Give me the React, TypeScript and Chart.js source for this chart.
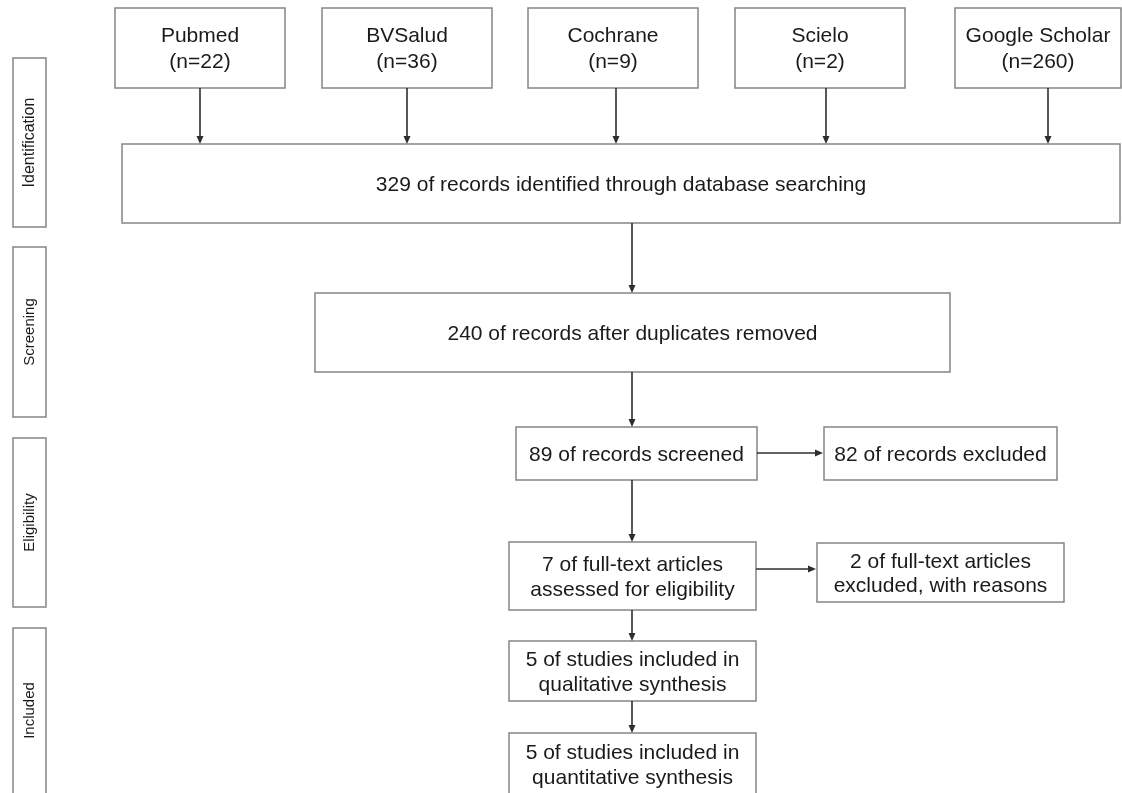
import React, { useEffect, useRef } from 'react';
import { Chart, registerables } from 'chart.js';

Chart.register(...registerables);

// data
const sourceNames = ['Pubmed', 'BVSalud', 'Cochrane', 'Scielo', 'Google Scholar'];
const sourceCounts = [22, 36, 9, 2, 260];
const stageNames = ['Identification', 'Screening', 'Eligibility', 'Included'];
const flowCounts = [329, 240, 89, 7, 5, 5];
const flowLabels = [
  ['of records identified through database searching'],
  ['of records after duplicates removed'],
  ['of records screened'],
  ['of full-text articles', 'assessed for eligibility'],
  ['of studies included in', 'qualitative synthesis'],
  ['of studies included in', 'quantitative synthesis'],
];
const excludedCounts = [82, 2];
const excludedLabels = [
  ['of records excluded'],
  ['of full-text articles', 'excluded, with reasons'],
];

// layout (x0, y0, x1, y1) in the 1122 x 793 frame
const sourceBoxes = [
  [115, 8, 285, 88],
  [322, 8, 492, 88],
  [528, 8, 698, 88],
  [735, 8, 905, 88],
  [955, 8, 1121, 88],
];
const sourceArrowX = [200, 407, 616, 826, 1048];
const flowBoxes = [
  [122, 144, 1120, 223],
  [315, 293, 950, 372],
  [516, 427, 757, 480],
  [509, 542, 756, 610],
  [509, 641, 756, 701],
  [509, 733, 756, 800],
];
const excludedBoxes = [
  [824, 427, 1057, 480],
  [817, 543, 1064, 602],
];
const excludedArrowY = [453, 569];
const stageBoxes = [
  [13, 58, 46, 227],
  [13, 247, 46, 417],
  [13, 438, 46, 607],
  [13, 628, 46, 800],
];
const stageFontSizes = [16, 15, 15, 15];
const mainX = 632;

const FONT = '"Liberation Sans", Arial, sans-serif';

const flowPlugin = {
  id: 'prismaFlow',
  beforeDraw(chart: Chart) {
    const { ctx, width, height } = chart;
    ctx.save();
    ctx.fillStyle = '#ffffff';
    ctx.fillRect(0, 0, width, height);
    ctx.restore();
  },
  afterDraw(chart: Chart) {
    const ctx = chart.ctx;
    const sx = chart.scales.x;
    const sy = chart.scales.y;
    const px = (v: number) => sx.getPixelForValue(v);
    const py = (v: number) => sy.getPixelForValue(v);

    const box = (b: number[]) => {
      ctx.save();
      ctx.strokeStyle = '#858585';
      ctx.lineWidth = 1.5;
      ctx.strokeRect(px(b[0]), py(b[1]), px(b[2]) - px(b[0]), py(b[3]) - py(b[1]));
      ctx.restore();
    };

    const text = (lines: string[], cx: number, cy: number, size = 21, lh = 25) => {
      ctx.save();
      ctx.fillStyle = '#1a1a1a';
      ctx.font = `${size}px ${FONT}`;
      ctx.textAlign = 'center';
      ctx.textBaseline = 'middle';
      const start = cy + 1.5 - ((lines.length - 1) * lh) / 2;
      lines.forEach((l, i) => ctx.fillText(l, cx, start + i * lh));
      ctx.restore();
    };

    const arrow = (x0: number, y0: number, x1: number, y1: number) => {
      const a0 = px(x0), b0 = py(y0), a1 = px(x1), b1 = py(y1);
      const ang = Math.atan2(b1 - b0, a1 - a0);
      const len = 8, hw = 3.5;
      ctx.save();
      ctx.strokeStyle = '#2e2e2e';
      ctx.fillStyle = '#2e2e2e';
      ctx.lineWidth = 1.6;
      ctx.beginPath();
      ctx.moveTo(a0, b0);
      ctx.lineTo(a1 - Math.cos(ang) * len, b1 - Math.sin(ang) * len);
      ctx.stroke();
      ctx.beginPath();
      ctx.moveTo(a1, b1);
      ctx.lineTo(a1 - Math.cos(ang) * len - Math.sin(ang) * hw, b1 - Math.sin(ang) * len + Math.cos(ang) * hw);
      ctx.lineTo(a1 - Math.cos(ang) * len + Math.sin(ang) * hw, b1 - Math.sin(ang) * len - Math.cos(ang) * hw);
      ctx.closePath();
      ctx.fill();
      ctx.restore();
    };

    // stage labels
    stageNames.forEach((name, i) => {
      const b = stageBoxes[i];
      box(b);
      const top = b[1];
      const bottom = Math.min(b[3], 793);
      ctx.save();
      ctx.translate(px((b[0] + b[2]) / 2), py((top + bottom) / 2));
      ctx.rotate(-Math.PI / 2);
      ctx.fillStyle = '#1a1a1a';
      ctx.font = `${stageFontSizes[i]}px ${FONT}`;
      ctx.textAlign = 'center';
      ctx.textBaseline = 'middle';
      ctx.fillText(name, 0, 0);
      ctx.restore();
    });

    // database sources
    sourceNames.forEach((name, i) => {
      const b = sourceBoxes[i];
      box(b);
      text([name, `(n=${sourceCounts[i]})`], px((b[0] + b[2]) / 2), py((b[1] + b[3]) / 2), 21, 26);
      arrow(sourceArrowX[i], b[3], sourceArrowX[i], flowBoxes[0][1]);
    });

    // main flow
    flowCounts.forEach((n, i) => {
      const b = flowBoxes[i];
      box(b);
      const lines = flowLabels[i].map((l, j) => (j === 0 ? `${n} ${l}` : l));
      const bottom = Math.min(b[3], 796);
      text(lines, px((b[0] + b[2]) / 2), py((b[1] + bottom) / 2));
      if (i > 0) arrow(mainX, flowBoxes[i - 1][3], mainX, b[1]);
    });

    // exclusions
    excludedCounts.forEach((n, i) => {
      const b = excludedBoxes[i];
      box(b);
      const lines = excludedLabels[i].map((l, j) => (j === 0 ? `${n} ${l}` : l));
      text(lines, px((b[0] + b[2]) / 2), py((b[1] + b[3]) / 2), 21, 24);
      arrow(flowBoxes[i + 2][2], excludedArrowY[i], b[0] - 1, excludedArrowY[i]);
    });
  },
};

const App: React.FC = () => {
  const canvasRef = useRef<HTMLCanvasElement>(null);
  const chartRef = useRef<Chart | null>(null);

  useEffect(() => {
    if (!canvasRef.current) return;
    if (chartRef.current) chartRef.current.destroy();

    chartRef.current = new Chart(canvasRef.current, {
      type: 'scatter',
      data: { datasets: [] },
      options: {
        animation: false,
        responsive: true,
        maintainAspectRatio: false,
        events: [],
        layout: { padding: 0 },
        plugins: { legend: { display: false }, tooltip: { enabled: false } },
        scales: {
          x: { type: 'linear', min: 0, max: 1122, display: false },
          y: { type: 'linear', min: 0, max: 793, reverse: true, display: false },
        },
      },
      plugins: [flowPlugin],
    });

    return () => {
      chartRef.current?.destroy();
      chartRef.current = null;
    };
  }, []);

  return (
    <div style={{ position: 'fixed', left: 0, top: 0, width: 1122, height: 793, background: '#fff' }}>
      <canvas ref={canvasRef} />
    </div>
  );
};

export default App;
